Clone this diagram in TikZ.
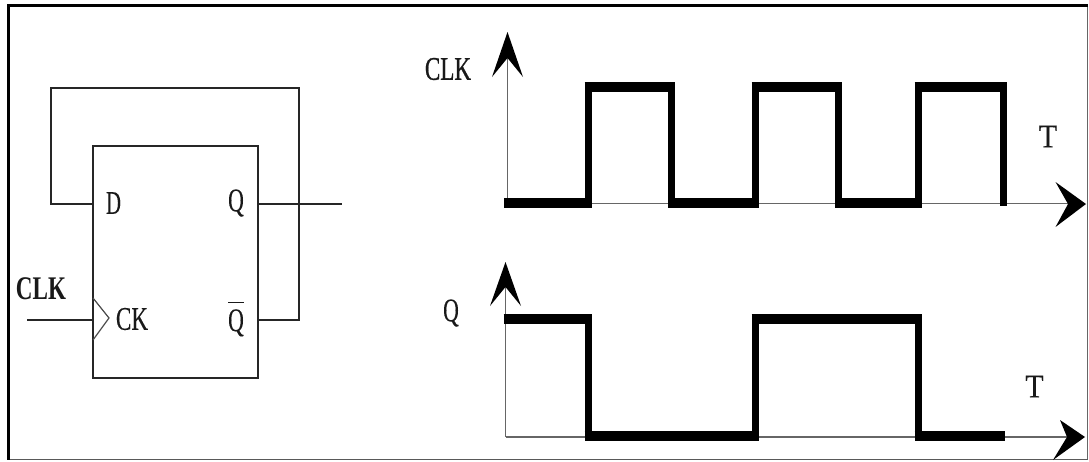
\documentclass[tikz,border=0pt]{standalone}
\usepackage{fontspec}
\setmainfont{Liberation Serif}
\newfontfamily\labelfont[FakeBold=0.25]{Liberation Serif}
\newfontfamily\midfont[FakeBold=0.9]{Liberation Serif}
\tikzset{
  thin line/.style={draw=black!85,line width=1.7pt},
  axis line/.style={draw=black!60,line width=1.8pt},
  hi wave/.style={draw=black,line width=10pt,line cap=butt},
  vert wave/.style={draw=black,line width=7pt,line cap=butt},
  label/.style={inner sep=0pt,outer sep=0pt,font=\fontsize{33pt}{33pt}\labelfont,text=black!90},
  ffbox/.style={draw=black!85,line width=1.7pt,minimum width=165pt,minimum height=232pt,inner sep=0pt,fill=white},
  barb/.style={fill=black,draw=none},
}
\newcommand{\sx}[2]{\scalebox{#1}[1]{#2}}
\begin{document}
\begin{tikzpicture}[x=1pt,y=-1pt]
\useasboundingbox (0,0) rectangle (1089,461);
\fill[white] (0,0) rectangle (1089,461);
\draw[black!60,line width=1.2pt] (1087.5,5) -- (1087.5,459.5);
\draw[black!65,line width=1.6pt] (8,459.5) -- (1087.5,459.5);
\draw[black,line width=3pt] (1088,5.5) -- (8.5,5.5) -- (8.5,460);

% flip-flop
\node[ffbox] (ff) at (175.5,262) {};
\coordinate (dIn) at (93,204);
\coordinate (qOut) at (258,204);
\coordinate (nqOut) at (258,320);
\coordinate (ckIn) at (93,320);
\coordinate (ckStart) at (27,320);
\coordinate (qEnd) at (342,204);
\coordinate (fbA) at (299,320);
\coordinate (fbB) at (299,88);
\coordinate (fbC) at (51,88);
\coordinate (fbD) at (51,204);
\draw[thin line] (nqOut) -- (fbA) -- (fbB) -- (fbC) -- (fbD) -- (dIn);
\draw[thin line] (qOut) -- (qEnd);
\draw[thin line] (ckStart) -- (ckIn);
\coordinate (trA) at (93,298);
\coordinate (trB) at (109,318);
\coordinate (trC) at (93,340);
\draw[draw=black!70,line width=1.2pt] (trA) -- (trB) -- (trC);

\node[label] (lD) at (113.5,203) {\sx{0.63}{D}};
\node[label] (lQ) at (236,203) {\sx{0.66}{Q}};
\node[label] (lCK) at (132,319) {\sx{0.7}{CK}};
\node[label] (lNQ) at (236,319) {\sx{0.66}{\rlap{\rule[28pt]{24pt}{1.6pt}}Q}};
\node[label,font=\fontsize{33pt}{33pt}\selectfont\bfseries] (lCLK) at (41,289) {\sx{0.7}{CLK}};

% CLK axes
\coordinate (cO) at (507.5,203.5);
\coordinate (cY) at (507.5,50);
\coordinate (cX) at (1075,203.5);
\draw[axis line] (cO) -- (cY);
\draw[axis line] (cO) -- (cX);
\fill[barb] (507.5,32) -- (523,77) -- (507.5,58) -- (492,77) -- cycle;
\fill[barb] (1086,204) -- (1055.5,227) -- (1068,204) -- (1055.5,182) -- cycle;

% CLK waveform
\foreach \a/\b in {504/591.5,668/758.5,835/921.5}
  \draw[hi wave] (\a,203) -- (\b,203);
\foreach \a/\b in {584.5/674.5,751.5/841.5,914.5/1006.5}
  \draw[hi wave] (\a,87) -- (\b,87);
\foreach \x in {588,671,755,838,918}
  \draw[vert wave] (\x,82) -- (\x,208);
\draw[vert wave] (1003,82) -- (1003,206);

\node[label,font=\fontsize{33pt}{33pt}\midfont] (lCLKb) at (448,69) {\sx{0.7}{CLK}};
\node[label] (lT) at (1048,136.5) {\sx{0.9}{T}};

% Q axes
\coordinate (qO) at (505.5,437);
\coordinate (qY) at (505.5,280);
\coordinate (qX) at (1075,437);
\draw[axis line] (qO) -- (qY);
\draw[axis line] (qO) -- (qX);
\fill[barb] (505.5,262) -- (521,306) -- (505.5,287) -- (490,306) -- cycle;
\fill[barb] (1085,437) -- (1053,460) -- (1067,437) -- (1060,420) -- cycle;

% Q waveform
\foreach \a/\b in {503.5/591.5,751.5/921.5}
  \draw[hi wave] (\a,319) -- (\b,319);
\foreach \a/\b in {584.5/758.5,914.5/1005}
  \draw[hi wave] (\a,436) -- (\b,436);
\foreach \x in {588,755,918}
  \draw[vert wave] (\x,314) -- (\x,441);

\node[label] (lQb) at (451,313) {\sx{0.66}{Q}};
\node[label] (lTb) at (1034.5,386.5) {\sx{0.9}{T}};
\end{tikzpicture}
\end{document}
